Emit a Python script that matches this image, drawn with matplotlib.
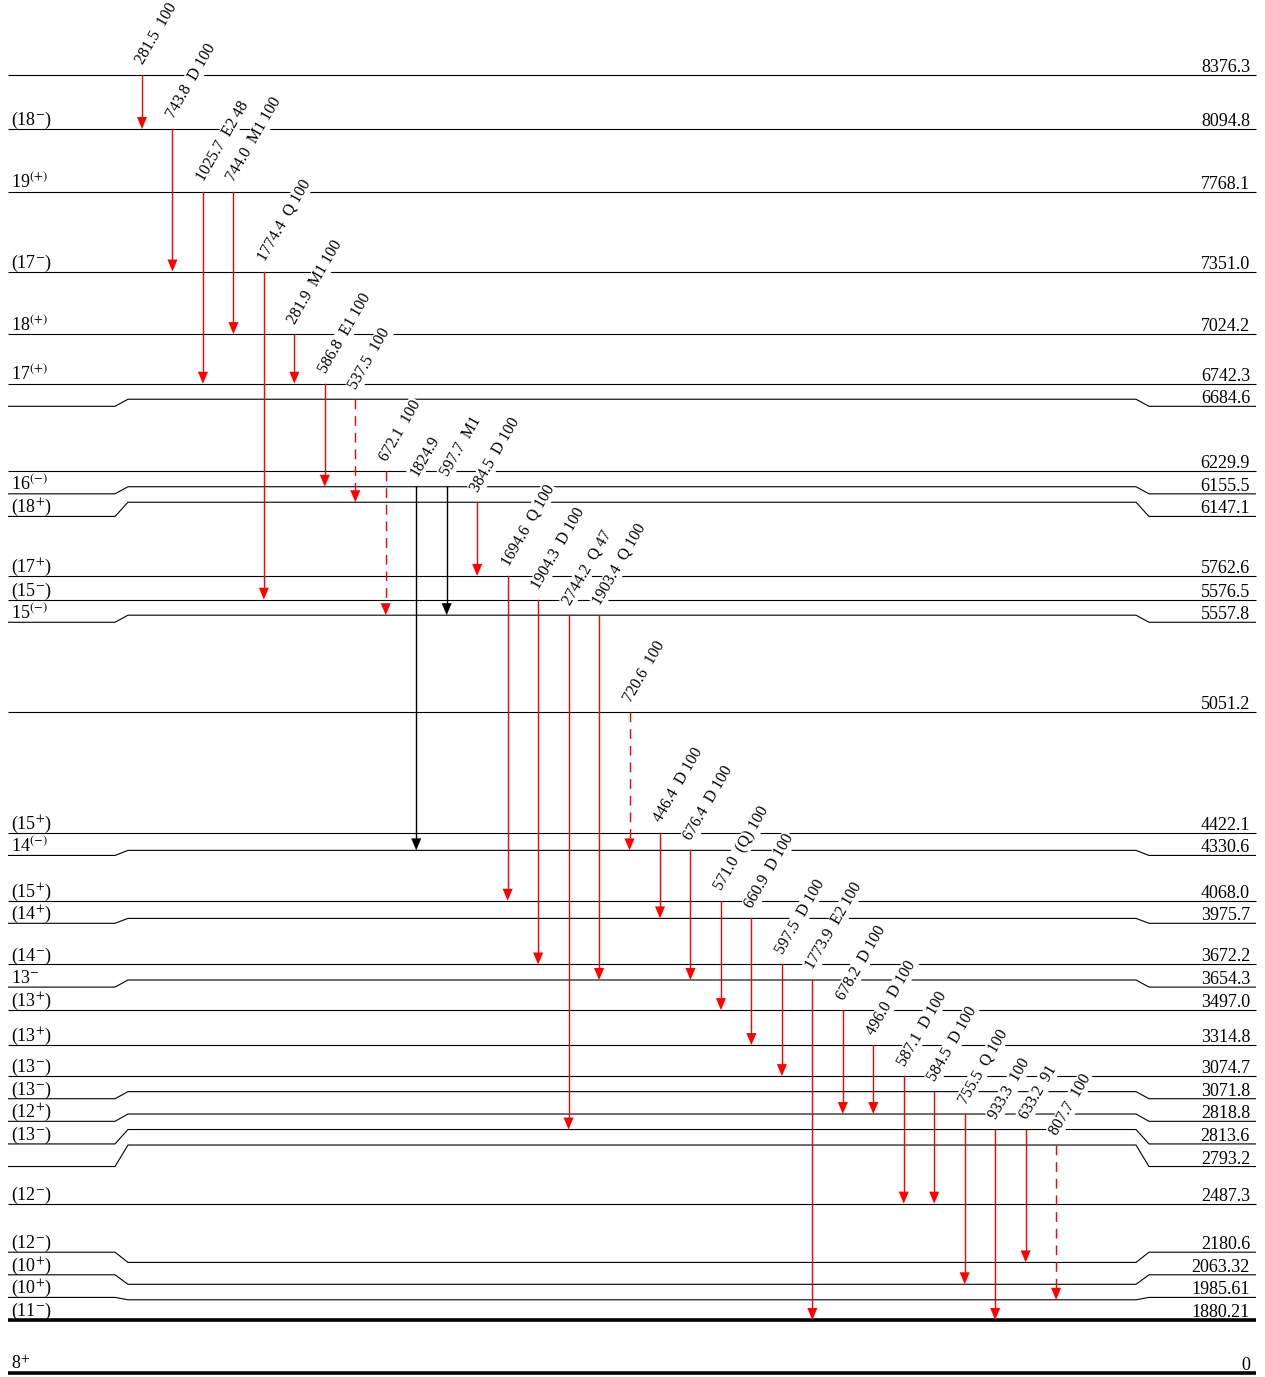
import numpy as np
import matplotlib.pyplot as plt
from matplotlib.patches import Polygon

plt.rcParams['font.family'] = ['Liberation Serif', 'DejaVu Serif']
plt.rcParams['mathtext.fontset'] = 'stix'

# level energies (keV) as printed, and spin/parity labels
level_energy = ['8376.3', '8094.8', '7768.1', '7351.0', '7024.2', '6742.3', '6684.6',
                '6229.9', '6155.5', '6147.1', '5762.6', '5576.5', '5557.8', '5051.2',
                '4422.1', '4330.6', '4068.0', '3975.7', '3672.2', '3654.3', '3497.0',
                '3314.8', '3074.7', '3071.8', '2818.8', '2813.6', '2793.2', '2487.3',
                '2180.6', '2063.32', '1985.61', '1880.21', '0']
level_spin = ['', '(18$^{-}$)', '19$^{(+)}$', '(17$^{-}$)', '18$^{(+)}$', '17$^{(+)}$', '',
              '', '16$^{(-)}$', '(18$^{+}$)', '(17$^{+}$)', '(15$^{-}$)', '15$^{(-)}$', '',
              '(15$^{+}$)', '14$^{(-)}$', '(15$^{+}$)', '(14$^{+}$)', '(14$^{-}$)', '13$^{-}$',
              '(13$^{+}$)', '(13$^{+}$)', '(13$^{-}$)', '(13$^{-}$)', '(12$^{+}$)', '(13$^{-}$)',
              '', '(12$^{-}$)', '(12$^{-}$)', '(10$^{+}$)', '(10$^{+}$)', '(11$^{-}$)', '8$^{+}$']
thick_levels = ['1880.21', '0']

# gamma transitions, left to right
gamma_energy = ['281.5', '743.8', '1025.7', '744.0', '1774.4', '281.9', '586.8', '537.5',
                '672.1', '1824.9', '597.7', '384.5', '1694.6', '1904.3', '2744.2', '1903.4',
                '720.6', '446.4', '676.4', '571.0', '660.9', '597.5', '1773.9', '678.2',
                '496.0', '587.1', '584.5', '755.5', '933.3', '633.2', '807.7']
gamma_mult = ['', 'D', 'E2', 'M1', 'Q', 'M1', 'E1', '', '', '', 'M1', 'D', 'Q', 'D', 'Q', 'Q',
              '', 'D', 'D', '(Q)', 'D', 'D', 'E2', 'D', 'D', 'D', 'D', 'Q', '', '', '']
gamma_intensity = ['100', '100', '48', '100', '100', '100', '100', '100', '100', '', '', '100',
                   '100', '100', '47', '100', '100', '100', '100', '100', '100', '100', '100',
                   '100', '100', '100', '100', '100', '100', '91', '100']
gamma_from = ['8376.3', '8094.8', '7768.1', '7768.1', '7351.0', '7024.2', '6742.3', '6684.6',
              '6229.9', '6155.5', '6155.5', '6147.1', '5762.6', '5576.5', '5557.8', '5557.8',
              '5051.2', '4422.1', '4330.6', '4068.0', '3975.7', '3672.2', '3654.3', '3497.0',
              '3314.8', '3074.7', '3071.8', '2818.8', '2813.6', '2813.6', '2793.2']
gamma_to = ['8094.8', '7351.0', '6742.3', '7024.2', '5576.5', '6742.3', '6155.5', '6147.1',
            '5557.8', '4330.6', '5557.8', '5762.6', '4068.0', '3672.2', '2813.6', '3654.3',
            '4330.6', '3975.7', '3654.3', '3497.0', '3314.8', '3074.7', '1880.21', '2818.8',
            '2818.8', '2487.3', '2487.3', '2063.32', '1880.21', '2180.6', '1985.61']
gamma_black = ['1824.9', '597.7']
gamma_dashed = ['537.5', '672.1', '720.6', '807.7']

# layout (pixels)
W, H = 1265, 1377
top_px, low_px = 75, 1320          # where the highest and lowest excited levels sit
ground_gap_px = 53
level_gap_px = 15.5                # min spacing of level lines
label_gap_px = 22.6                # min spacing of level labels
x_left = [8, 115, 128]
x_right = [1136, 1149, 1256]
gx0, gdx = 142, 30.47

E = np.array([float(e) for e in level_energy[:-1]])
k = (E[0] - E[-1]) / (low_px - top_px)      # keV per pixel
y_top = E[0] + top_px * k
y_bot = y_top - H * k

# level line positions: keep min spacing, pushing upward from the bottom
ylev = list(E)
for i in range(len(ylev) - 2, -1, -1):
    ylev[i] = max(ylev[i], ylev[i + 1] + level_gap_px * k)

# label positions: push down from the top, then keep lowest level fixed
lab = list(ylev)
gap = label_gap_px * k
for i in range(1, len(lab)):
    lab[i] = min(lab[i], lab[i - 1] - gap)
lab[-1] = ylev[-1]
for i in range(len(lab) - 2, -1, -1):
    lab[i] = max(lab[i], lab[i + 1] + gap)

ground = ylev[-1] - ground_gap_px * k
ypos = dict(zip(level_energy, ylev + [ground]))
labpos = dict(zip(level_energy, lab + [ground]))

fig = plt.figure(figsize=(W / 100, H / 100), dpi=100)
ax = fig.add_axes([0, 0, 1, 1])
ax.set_xlim(0, W)
ax.set_ylim(y_bot, y_top)
ax.axis('off')

fs = 13
for s, spin in zip(level_energy, level_spin):
    y, yl = ypos[s], labpos[s]
    xs = x_left + x_right
    ys = [yl, yl, y, y, yl, yl]
    lw = 2.6 if s in thick_levels else 0.8
    ax.plot(xs, ys, color='black', lw=lw, zorder=1, solid_capstyle='butt')
    ax.text(11, yl + 4 * k, spin, fontsize=fs, ha='left', va='baseline', zorder=4)
    ax.text(1250, yl + 3 * k, s, fontsize=fs, ha='right', va='baseline', zorder=4)

head_w, head_l = 5, 12 * k
for i, (eg, m, inten, a, b) in enumerate(zip(gamma_energy, gamma_mult, gamma_intensity,
                                             gamma_from, gamma_to)):
    x = gx0 + i * gdx
    y0, y1 = ypos[a], ypos[b]
    c = 'black' if eg in gamma_black else '#ff0000'
    ls = (0, (7, 5)) if eg in gamma_dashed else '-'
    ax.plot([x, x], [y0, y1 + head_l], color=c, lw=1.0, ls=ls, zorder=2)
    ax.add_patch(Polygon([(x - head_w, y1 + head_l), (x + head_w, y1 + head_l), (x, y1)],
                         closed=True, color=c, lw=0, zorder=2))
    tail = ' '.join(t for t in (m, inten) if t)
    txt = eg + ('  ' + tail if tail else '')
    ax.text(x + 4.5, y0 + 7.5 * k, txt, fontsize=11.5, rotation=60, rotation_mode='anchor',
            ha='left', va='bottom', zorder=3,
            bbox=dict(facecolor='white', edgecolor='none', pad=0.5))

fig.savefig('out.png', dpi=100, facecolor='white')
